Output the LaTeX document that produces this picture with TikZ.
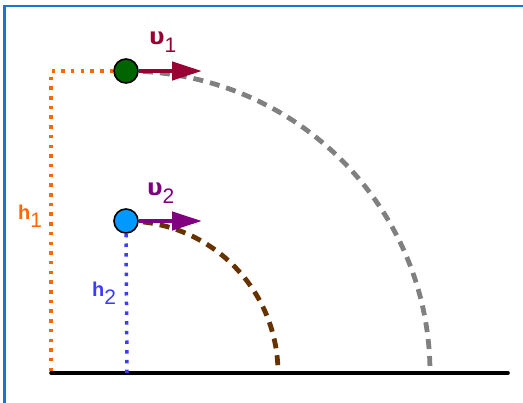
\documentclass[tikz,border=0pt]{standalone}
\usepackage{fontspec}
\setmainfont{Liberation Sans}
\newfontfamily\grk{DejaVu Sans}
\usetikzlibrary{arrows.meta}
\definecolor{frameblue}{RGB}{21,118,211}
\definecolor{hone}{RGB}{255,102,0}
\definecolor{htwo}{RGB}{60,60,255}
\definecolor{uone}{RGB}{153,0,51}
\definecolor{utwo}{RGB}{128,0,128}
\definecolor{ballone}{RGB}{0,100,0}
\definecolor{balltwo}{RGB}{0,153,255}
\definecolor{arcone}{RGB}{128,128,128}
\definecolor{arctwo}{RGB}{102,51,0}
\tikzset{
  ball/.style={circle, draw=black, line width=1.6pt, minimum size=24pt, inner sep=0pt},
  vec/.style={line width=4.5pt, -{Triangle[length=30pt, width=18pt]}},
  hdot/.style={line width=3.5pt, dash pattern=on 3.5pt off 6.2pt},
  traj/.style={line width=4.8pt, dash pattern=on 10pt off 7pt},
  lbl/.style={anchor=base west, inner sep=0pt, font=\fontsize{20}{22}\selectfont},
}
\newcommand{\sublo}[1]{\raisebox{-8pt}{\fontsize{21}{22}\selectfont #1}}
\begin{document}
\begin{tikzpicture}[x=1pt,y=-1pt]
\useasboundingbox (0,0) rectangle (523,403);
\draw[frameblue, line width=2.5pt] (4.5,403) -- (4.5,6) -- (523,6);
% coordinates
\coordinate (g0) at (51,373);
\coordinate (g1) at (508,373);
\coordinate (c1) at (51,71);
\coordinate (f2) at (127,373);
\coordinate (t1) at (202,71);
\coordinate (t2) at (202,221);
% trajectories
\draw[traj, arcone] (126,71) arc[start angle=90, end angle=0, x radius=304pt, y radius=302pt];
\draw[traj, arctwo] (126,221) arc[start angle=90, end angle=0, x radius=152pt, y radius=152pt];
% ground
\draw[line width=3.6pt, line cap=round] (g0) -- (g1);
% balls
\node[ball, fill=ballone] (b1) at (126,71) {};
\node[ball, fill=balltwo] (b2) at (126,221) {};
% heights
\draw[hdot, hone] (b1.west) -- (c1) -- (g0);
\draw[hdot, htwo] (b2.south) -- (f2);
% velocity vectors
\draw[vec, uone] (b1.east) -- (t1);
\draw[vec, utwo] (b2.east) -- (t2);
% labels
\node[lbl, text=hone] (lh1) at (18,220) {\textbf{h}\sublo{1}};
\node[lbl, text=htwo] (lh2) at (92,297) {\textbf{h}\sublo{2}};
\node[lbl, text=uone] (lu1) at (149,45) {{\grk\bfseries\fontsize{23}{24}\selectfont υ}\sublo{1}};
\node[lbl, text=utwo] (lu2) at (147,196) {{\grk\bfseries\fontsize{23}{24}\selectfont υ}\sublo{2}};
\end{tikzpicture}
\end{document}
